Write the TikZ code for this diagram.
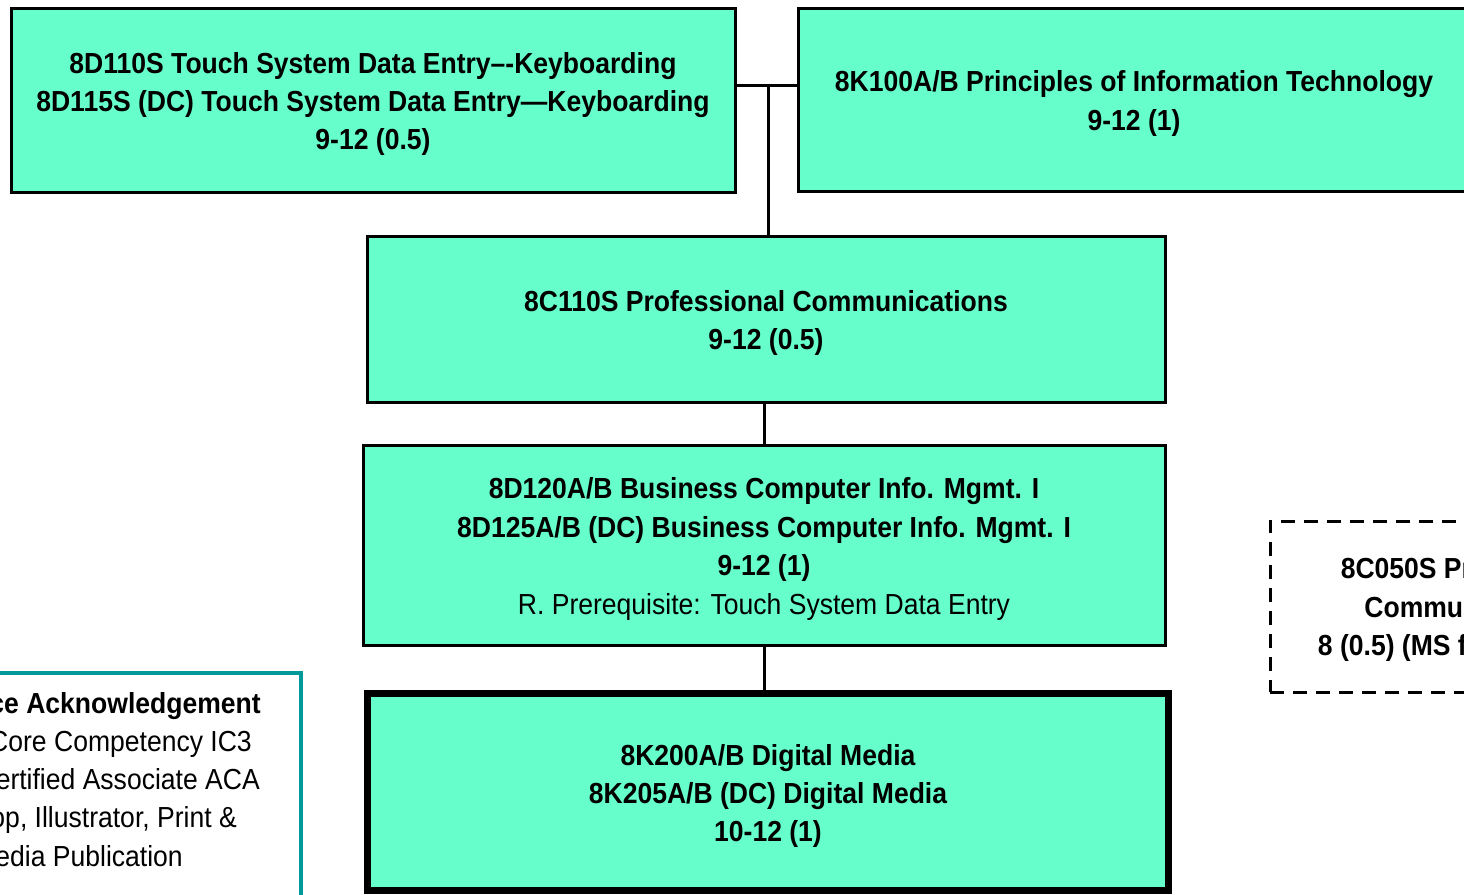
\documentclass[tikz,border=0pt]{standalone}
\usepackage{fontspec}
\setmainfont[FakeStretch=0.915]{Liberation Sans}
\definecolor{aqua}{HTML}{66FFCC}
\definecolor{tealb}{HTML}{009999}
\tikzset{
  box/.style={draw=black, line width=3pt, fill=aqua, rectangle, inner sep=0pt},
  thickbox/.style={box, line width=7pt},
  dashbox/.style={draw=black, line width=3pt, dash pattern=on 14pt off 9pt, fill=white,
    rectangle, inner sep=0pt},
  txt/.style={inner sep=0pt, align=center, font=\fontsize{29}{38.4}\selectfont\bfseries},
  conn/.style={draw=black, line width=3pt},
  ttext/.style={inner sep=0pt, anchor=base east, font=\fontsize{29}{38.4}\selectfont},
}
\begin{document}
\begin{tikzpicture}[x=1pt,y=-1pt]
\useasboundingbox (0,0) rectangle (1464,894);
\clip (0,0) rectangle (1464,894);
% boxes
\node[box, minimum width=724, minimum height=184] (k) at (373,100) {};
\node[box, minimum width=672, minimum height=183] (p) at (1134,99.5) {};
\node[box, minimum width=798, minimum height=166] (pc) at (766,319) {};
\node[box, minimum width=802, minimum height=200] (bc) at (764,545) {};
\node[thickbox, minimum width=801, minimum height=197] (dm) at (768,792) {};
\node[dashbox, minimum width=364, minimum height=171] (pe) at (1452,606.5) {};
\node[draw=tealb, line width=4pt, fill=white, rectangle, inner sep=0pt,
  minimum width=420, minimum height=240] (ia) at (91,793) {};
% texts
\node[txt] (kt) at ([yshift=-4pt]k.center)
  {8D110S Touch System Data Entry–-Keyboarding\\8D115S (DC) Touch System Data Entry—Keyboarding\\9-12 (0.5)};
\node[txt] (pt) at ([yshift=-4pt]p.center)
  {8K100A/B Principles of Information Technology\\9-12 (1)};
\node[txt] (pct) at ([yshift=-4pt]pc.center)
  {8C110S Professional Communications\\9-12 (0.5)};
\node[txt] (bct) at ([yshift=-4pt]bc.center)
  {8D120A/B Business Computer Info. Mgmt. I\\8D125A/B (DC) Business Computer Info. Mgmt. I\\9-12 (1)\\\mdseries R. Prerequisite: Touch System Data Entry};
\node[txt] (dmt) at ([yshift=-4pt]dm.center)
  {8K200A/B Digital Media\\8K205A/B (DC) Digital Media\\10-12 (1)};
\node[txt] (pet) at ([xshift=20pt,yshift=-3pt]pe.center)
  {8C050S Professional\\Communications\\8 (0.5) (MS for HS credit)};
\node[ttext, font=\fontsize{29}{38.4}\selectfont\bfseries] (ia1) at (261,713) {Performance Acknowledgement};
\node[ttext] (ia2) at (252,751) {Computing Core Competency IC3};
\node[ttext] (ia3) at (260,789) {Adobe Certified Associate ACA};
\node[ttext] (ia4) at (237,827) {Photoshop, Illustrator, Print \&};
\node[ttext] (ia5) at (183,866) {Digital Media Publication};
% connectors
\coordinate (j) at (768,85);
\draw[conn] (k.east |- j) -- (p.west |- j);
\draw[conn] (j) -- (pc.north -| j);
\draw[conn] (bc.north) -- (bc.north |- pc.south);
\draw[conn] (bc.south) -- (bc.south |- dm.north);
\end{tikzpicture}
\end{document}
